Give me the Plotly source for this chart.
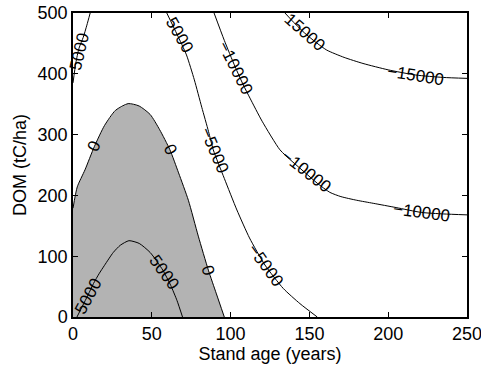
import plotly.graph_objects as go

# ---- data ----
# zero contour (boundary of grey region z > 0)
x_zero = [0, 2.7, 7.6, 13.5, 20, 27, 35, 42, 49, 55, 61.5, 67, 73.2, 79.5, 85.9, 91, 96]
y_zero = [179, 214, 242, 280, 315, 340, 351, 347, 333, 308, 275, 237, 192, 133, 77, 38, 0]

# +5000 contour (inside grey region)
x_p5000 = [2.5, 6, 9.5, 13, 16.5, 20, 25.5, 30, 35.5, 42, 49, 57, 62, 66, 69.5]
y_p5000 = [0, 18, 36, 55, 71, 85, 106, 118, 125.5, 121, 106, 77, 52, 27, 0]

# -5000 contour (top-left corner)
x_m5000_tl = [10.9, 8.8, 6.5, 3.8, 1.8, 0]
y_m5000_tl = [500, 480, 460, 442, 418, 385]

# -5000 contour (middle)
x_m5000 = [59.5, 66, 72, 77, 81.7, 86, 89, 96, 104, 112, 121.8, 133.4, 144, 155]
y_m5000 = [500, 465, 431, 390, 345, 305, 275, 228, 176, 130, 85.5, 47, 22, 0]

# -10000 contour
x_m10000 = [89.5, 96, 102.8, 108, 112.3, 120, 131.3, 139, 147, 155, 163, 170, 180, 190.5, 205, 221, 235, 250]
y_m10000 = [500, 455, 412, 382, 360, 322, 275, 256, 238, 220, 205, 198, 192, 187, 180, 172, 169.5, 168]

# -15000 contour
x_m15000 = [134.5, 141, 147, 154, 161, 172, 184, 200, 217.5, 235, 250]
y_m15000 = [500, 482, 467, 452, 439, 427, 417, 406.5, 398, 394, 392.5]

# contour labels: text, x, y, angle along the line
label_text = ["5000", "5000", "\u221210000", "15000", "\u221215000", "\u22125000",
              "\u221210000", "\u221210000", "\u22125000", "0", "0", "0", "5000", "5000"]
label_x = [4.3, 67.9, 102.8, 147.2, 217.5, 89.6, 148.2, 221.3, 122.3, 13.5, 61.5, 85.9, 9.5, 57.8]
label_y = [436, 463.8, 410.4, 468, 398, 273.4, 240.1, 171.8, 85.4, 280, 274.7, 77.3, 34.5, 73]
label_angle = [-77, 60, 63, 41.5, 9, 67, 38, 7.5, 54, -66, 64, 73, -62, 54]

x_ticks = [0, 50, 100, 150, 200, 250]
y_ticks = [0, 100, 200, 300, 400, 500]
x_title = "Stand age (years)"
y_title = "DOM (tC/ha)"

FONT = "Liberation Sans, Arial, Helvetica, sans-serif"
GREY = "rgb(179,179,179)"

fig = go.Figure()

# grey filled region (z > 0): bounded by the zero contour and the axes
fig.add_trace(go.Scatter(
    x=[0] + x_zero + [0], y=[0] + y_zero + [0],
    mode="lines", fill="toself", fillcolor=GREY,
    line=dict(width=0, color=GREY), hoverinfo="skip", showlegend=False))

for xs, ys in [(x_zero, y_zero), (x_p5000, y_p5000), (x_m5000_tl, y_m5000_tl),
               (x_m5000, y_m5000), (x_m10000, y_m10000), (x_m15000, y_m15000)]:
    fig.add_trace(go.Scatter(x=xs, y=ys, mode="lines",
                             line=dict(color="black", width=1, shape="spline", smoothing=0.6),
                             showlegend=False, hoverinfo="skip"))

for t, x, y, a in zip(label_text, label_x, label_y, label_angle):
    fig.add_annotation(x=x, y=y, xref="x", yref="y", text=t, textangle=a,
                       showarrow=False, font=dict(family=FONT, size=17, color="black"))

axis_common = dict(showline=True, linecolor="black", linewidth=1.5, mirror="ticks",
                   ticks="inside", ticklen=5, tickcolor="black", tickwidth=1,
                   showgrid=False, zeroline=False, ticklabeloverflow="allow",
                   tickfont=dict(family=FONT, size=18, color="black"))

fig.update_xaxes(range=[0, 250], tickvals=x_ticks, ticktext=[str(v) for v in x_ticks],
                 title=dict(text=x_title, standoff=3, font=dict(family=FONT, size=18, color="black")),
                 **axis_common)
fig.update_yaxes(range=[0, 500], tickvals=y_ticks, ticktext=[str(v) for v in y_ticks],
                 title=dict(text=y_title, standoff=6, font=dict(family=FONT, size=18, color="black")),
                 **axis_common)

fig.update_layout(width=481, height=369, autosize=False,
                  margin=dict(l=73, r=14, t=13, b=52, autoexpand=False),
                  plot_bgcolor="white", paper_bgcolor="white",
                  font=dict(family=FONT, color="black"))

fig.write_html("out.html")
